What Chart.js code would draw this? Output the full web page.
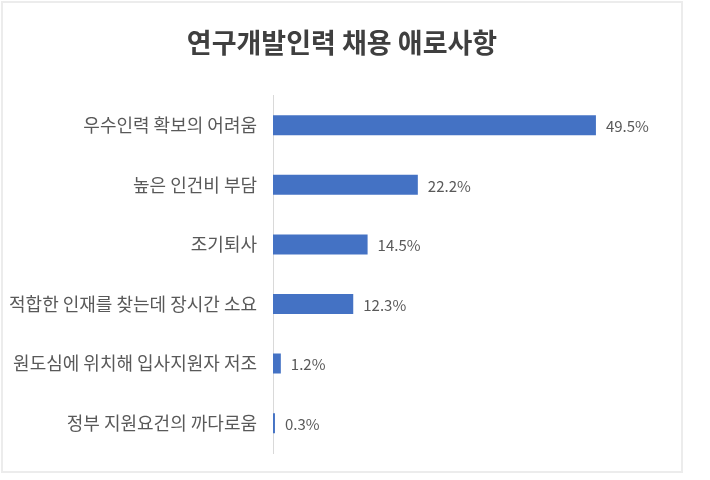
<!DOCTYPE html>
<html>
<head>
<meta charset="utf-8">
<script src="https://cdn.jsdelivr.net/npm/chart.js@4"></script>
<style>
  html, body { margin: 0; padding: 0; background: #fff; }
  #wrap { position: relative; width: 710px; height: 480px; }
  #frame { position: absolute; left: 1px; top: 1px; width: 682px; height: 472px; border: 2px solid #ececec; box-sizing: border-box; pointer-events: none; }
</style>
</head>
<body>
<div id="wrap">
  <canvas id="barChart" width="710" height="480"></canvas>
  <div id="frame"></div>
</div>
<script>
var categories = ['우수인력 확보의 어려움', '높은 인건비 부담', '조기퇴사',
    '적합한 인재를 찾는데 장시간 소요', '원도심에 위치해 입사지원자 저조', '정부 지원요건의 까다로움'];
var values = [49.5, 22.2, 14.5, 12.3, 1.2, 0.3];

// value labels at bar ends
var valueLabels = {
    id: 'valueLabels',
    afterDatasetsDraw: function (chart) {
        var ctx = chart.ctx;
        var meta = chart.getDatasetMeta(0);
        ctx.save();
        ctx.font = '15px "Noto Sans CJK KR", "Noto Sans", sans-serif';
        ctx.fillStyle = '#595959';
        ctx.textAlign = 'left';
        ctx.textBaseline = 'middle';
        meta.data.forEach(function (bar, i) {
            ctx.fillText(values[i].toFixed(1) + '%', bar.x + 10, bar.y + 1);
        });
        ctx.restore();
    }
};

var ctx = document.getElementById('barChart').getContext('2d');
var myChart = new Chart(ctx, {
    type: 'bar',
    data: {
        labels: categories,
        datasets: [{
            data: values,
            backgroundColor: '#4472C4',
            borderWidth: 0,
            categoryPercentage: 1,
            barPercentage: 0.335
        }]
    },
    options: {
        indexAxis: 'y',
        responsive: false,
        animation: false,
        layout: { padding: { left: 0, right: 26, top: 0, bottom: 27 } },
        plugins: {
            legend: { display: false },
            tooltip: { enabled: false },
            title: {
                display: true,
                text: '연구개발인력 채용 애로사항',
                color: '#3f3f3f',
                font: { family: '"Noto Sans CJK KR", sans-serif', size: 27, weight: 'bold' },
                padding: { top: 27, bottom: 36 }
            }
        },
        scales: {
            x: {
                display: false,
                min: 0,
                max: 63
            },
            y: {
                grid: { display: false },
                border: { display: true, color: '#d9d9d9', width: 1 },
                ticks: {
                    color: '#595959',
                    padding: 8,
                    font: { family: '"Noto Sans CJK KR", sans-serif', size: 18 }
                },
                afterFit: function (scale) { scale.width = 273; }
            }
        }
    },
    plugins: [valueLabels]
});
</script>
</body>
</html>
